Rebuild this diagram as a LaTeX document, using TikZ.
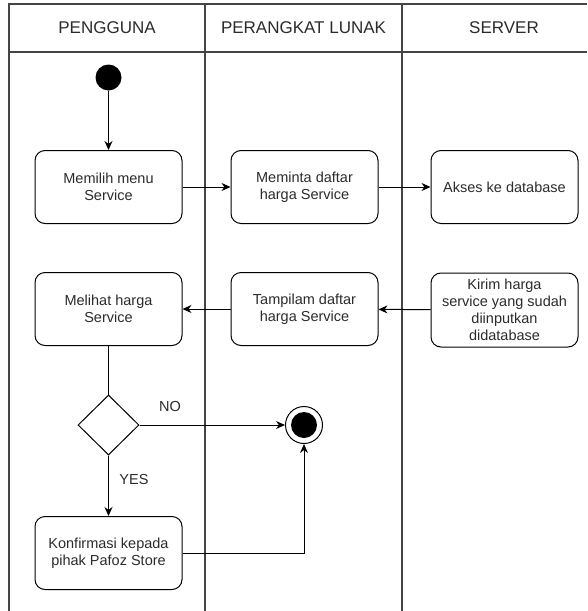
\documentclass[tikz,border=0pt]{standalone}
\usepackage{fontspec}
\setmainfont{Liberation Sans}
\usetikzlibrary{arrows.meta,shapes.geometric}
\definecolor{txt}{HTML}{2B2B2B}
\definecolor{lane}{HTML}{444444}
\tikzset{
  box/.style={draw=black, line width=1pt, rounded corners=10pt, minimum width=147pt, minimum height=73pt, inner sep=2pt, align=center, text=txt, font=\fontsize{14.5}{17}\selectfont},
  lbl/.style={text=txt, font=\fontsize{14.5}{17}\selectfont, inner sep=0pt},
  hdr/.style={text=txt, font=\fontsize{17}{20}\selectfont, inner sep=0pt},
  flow/.style={draw=black, line width=1pt, -{Stealth[length=9pt,width=8pt]}},
  plain/.style={draw=black, line width=1pt},
  lanel/.style={draw=lane, line width=1.4pt}
}
\begin{document}
\begin{tikzpicture}[x=1pt,y=-1pt]
\useasboundingbox (0,0) rectangle (587,611);
% swimlanes
\draw[lanel] (587,4) -- (9,4) -- (9,611);
\draw[lanel] (9,52) -- (587,52);
\draw[lanel] (205,4) -- (205,611);
\draw[lanel] (402,4) -- (402,611);
\node[hdr] (h1) at (107,28) {PENGGUNA};
\node[hdr] (h2) at (303.5,28) {PERANGKAT LUNAK};
\node[hdr] (h3) at (504,28) {SERVER};
% nodes
\node[circle, fill=black, minimum size=26pt, inner sep=0pt] (start) at (108.5,77.5) {};
\node[box] (memilih) at (108.5,187) {Memilih menu\\Service};
\node[box] (meminta) at (304.5,187) {Meminta daftar\\harga Service};
\node[box] (akses) at (504.5,187) {Akses ke database};
\node[box] (melihat) at (108.5,309) {Melihat harga\\Service};
\node[box] (tampil) at (304.5,309) {Tampilam daftar\\harga Service};
\node[box, minimum height=74pt] (kirim) at (504.5,310) {Kirim harga\\service yang sudah\\diinputkan\\didatabase};
\node[diamond, draw=black, line width=1pt, minimum width=61pt, minimum height=60pt, inner sep=0pt, aspect=1] (dec) at (108.5,425) {};
\node[circle, draw=black, line width=1pt, minimum size=37pt, inner sep=0pt] (end) at (304,425) {};
\node[circle, fill=black, minimum size=26pt, inner sep=0pt] (endin) at (end.center) {};
\node[box] (konf) at (108.5,553) {Konfirmasi kepada\\pihak Pafoz Store};
% connectors
\draw[flow] (start) -- (memilih);
\draw[flow] (memilih) -- (meminta);
\draw[flow] (meminta) -- (akses);
\draw[flow] (kirim) -- (tampil);
\draw[flow] (tampil) -- (melihat);
\draw[plain] (melihat) -- (dec.north);
\draw[flow] (dec.east) -- (end.west);
\draw[flow] (dec.south) -- (konf.north);
\draw[flow] (konf.east) -| (end.south);
\node[lbl] (no) at (170,407) {NO};
\node[lbl] (yes) at (134,480) {YES};
\end{tikzpicture}
\end{document}
